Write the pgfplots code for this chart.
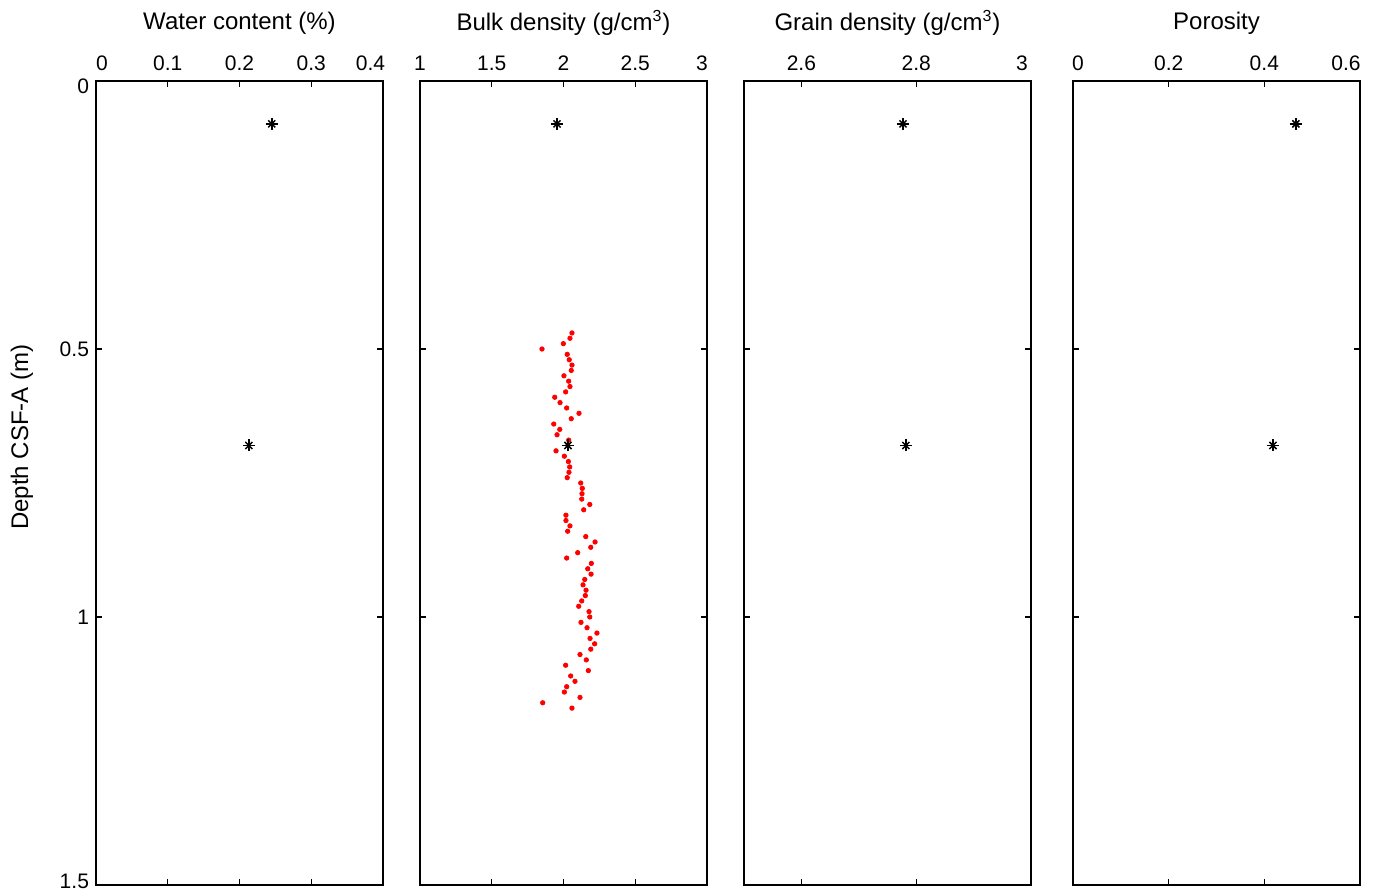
\documentclass[border=0pt]{standalone}
\usepackage{pgfplots}
\pgfplotsset{compat=1.18}
\usepackage{fontspec}
\setmainfont{Liberation Sans}
\pgfplotsset{
  panel/.style={
    scale only axis,
    width=143.5pt, height=402pt,
    anchor=north west,
    y dir=reverse, ymin=0, ymax=1.5,
    ytick={0,0.5,1,1.5},
    tick align=inside,
    major tick length=3.2pt,
    xticklabel pos=upper,
    axis line style={line width=0.9pt},
    every tick/.style={black, line width=0.6pt},
    tick label style={font=\fontsize{10.5}{12}\selectfont},
    /pgf/number format/assume math mode=true,
    /pgf/number format/fixed,
    xticklabel style={yshift=1.5pt},
    title style={at={(0.5,1)}, anchor=center, yshift=23pt, font=\fontsize{12}{14}\selectfont},
    clip=false,
  },
  star/.style={only marks, mark=+, mark size=3pt, black, mark options={line width=0.75pt}},
  starx/.style={only marks, mark=x, mark size=2.5pt, black, mark options={line width=0.75pt}},
}
\newcommand{\rpad}[1]{\rule{#1}{0pt}}
\pgfplotstableread{
x y
2.059 0.47
2.045 0.48
1.999 0.49
1.850 0.50
2.026 0.51
2.040 0.52
2.059 0.53
2.054 0.54
2.003 0.55
2.036 0.56
2.045 0.57
2.015 0.58
1.939 0.59
1.976 0.60
2.022 0.61
2.108 0.62
2.054 0.63
1.932 0.64
1.974 0.65
1.955 0.66
2.036 0.67
2.030 0.68
1.948 0.69
2.006 0.70
2.034 0.71
2.043 0.72
2.038 0.73
2.026 0.74
2.120 0.75
2.131 0.76
2.129 0.77
2.127 0.78
2.183 0.79
2.141 0.80
2.017 0.81
2.017 0.82
2.045 0.83
2.029 0.84
2.155 0.85
2.220 0.86
2.190 0.87
2.099 0.88
2.022 0.89
2.194 0.90
2.169 0.91
2.192 0.92
2.148 0.93
2.136 0.94
2.157 0.95
2.152 0.96
2.127 0.97
2.106 0.98
2.178 0.99
2.183 1.00
2.122 1.01
2.164 1.02
2.233 1.03
2.185 1.04
2.217 1.05
2.190 1.06
2.115 1.07
2.159 1.08
2.015 1.09
2.173 1.10
2.050 1.11
2.080 1.12
2.022 1.13
2.006 1.14
2.115 1.15
1.855 1.16
2.059 1.17
}\bulkred
\pgfplotstableread{
x y
0.245 0.08
0.213 0.68
}\water
\pgfplotstableread{
x y
1.955 0.08
2.031 0.68
}\bulk
\pgfplotstableread{
x y
2.777 0.08
2.782 0.68
}\grain
\pgfplotstableread{
x y
0.466 0.08
0.418 0.68
}\poros
\begin{document}
\begin{tikzpicture}
\path[use as bounding box] (0,0) rectangle (688.5pt,-446pt);
% Panel 1
\begin{axis}[panel, at={(48pt,-40.5pt)},
  xmin=0, xmax=0.4, xtick={0,0.1,0.2,0.3,0.4},
  xticklabels={\rpad{6pt}0, 0.1, 0.2, 0.3, 0.4\rpad{12.5pt}},
  yticklabels={\smash{\raisebox{-6.2pt}{0}}, 0.5, 1, \smash{\raisebox{-1.8pt}{1.5}}},
  title={Water content (\%)},
  ylabel={Depth CSF-A (m)},
  ylabel style={at={(axis description cs:-0.258,0.557)}, anchor=center, font=\fontsize{12}{14}\selectfont},
]
\addplot[star] table[x=x,y=y] {\water};
\addplot[starx] table[x=x,y=y] {\water};
\end{axis}
% Panel 2
\begin{axis}[panel, at={(210pt,-40.5pt)},
  xmin=1, xmax=3, xtick={1,1.5,2,2.5,3},
  xticklabels={1, 1.5, 2, 2.5, 3\rpad{5pt}},
  yticklabels={},
  title={Bulk density (g/cm\textsuperscript{3})},
]
\addplot[only marks, mark=*, red, mark size=1.1pt, mark options={draw=red, fill=red}] table[x=x,y=y] {\bulkred};
\addplot[star] table[x=x,y=y] {\bulk};
\addplot[starx] table[x=x,y=y] {\bulk};
\end{axis}
% Panel 3
\begin{axis}[panel, at={(372pt,-40.5pt)},
  xmin=2.5, xmax=3, xtick={2.6,2.8,3},
  xticklabels={2.6, 2.8, 3\rpad{9pt}},
  yticklabels={},
  title={Grain density (g/cm\textsuperscript{3})},
]
\addplot[star] table[x=x,y=y] {\grain};
\addplot[starx] table[x=x,y=y] {\grain};
\end{axis}
% Panel 4
\begin{axis}[panel, at={(536.5pt,-40.5pt)},
  xmin=0, xmax=0.6, xtick={0,0.2,0.4,0.6},
  xticklabels={\rpad{5pt}0, 0.2, 0.4, 0.6\rpad{14pt}},
  yticklabels={},
  title={Porosity},
]
\addplot[star] table[x=x,y=y] {\poros};
\addplot[starx] table[x=x,y=y] {\poros};
\end{axis}
\end{tikzpicture}
\end{document}
